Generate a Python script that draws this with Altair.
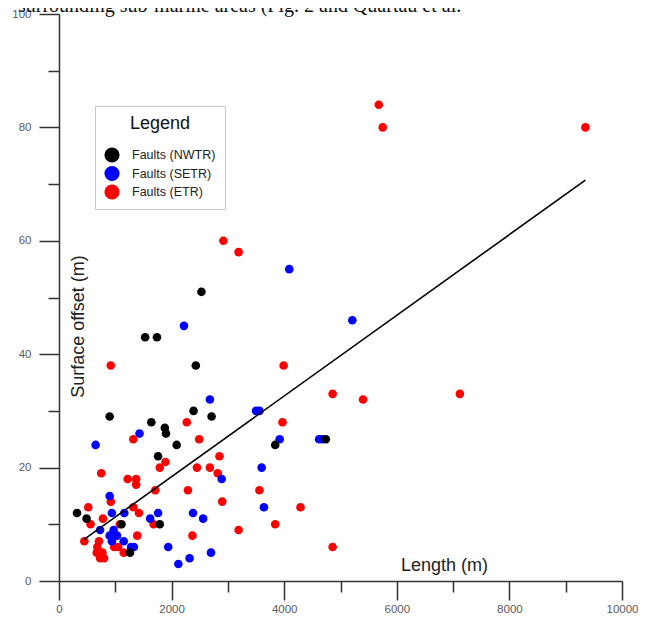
import altair as alt
import pandas as pd

# ---- data ----
groups = ["Faults (NWTR)", "Faults (SETR)", "Faults (ETR)"]
colors = ["#000000", "#0000ff", "#ff0000"]

nwtr_len = [2530, 1530, 1740, 2430, 900, 2390, 2710, 1640, 1880, 1900, 2090, 1760, 3840, 4740, 320, 490, 1110, 1790, 1260]
nwtr_off = [51, 43, 43, 38, 29, 30, 29, 28, 27, 26, 24, 22, 24, 25, 12, 11, 10, 10, 5]

setr_len = [4090, 5210, 2220, 2680, 3500, 3560, 1430, 3920, 4620, 4680, 650, 2890, 3600, 900, 3640, 940, 1160,
            1760, 2380, 1620, 2560, 730, 970, 1030, 900, 940, 1150, 1280, 1330, 1940, 2320, 2120, 2700]
setr_off = [55, 46, 45, 32, 30, 30, 26, 25, 25, 25, 24, 18, 20, 15, 13, 12, 12,
            12, 12, 11, 11, 9, 9, 8, 8, 7, 7, 6, 6, 6, 4, 3, 5]

etr_len = [5680, 5750, 9350, 2920, 3190, 920, 3990, 4860, 5400, 7120, 2270, 3970, 1320, 2490, 2850, 1890, 1790,
           2450, 2680, 2820, 750, 1220, 1370, 1370, 1710, 2290, 3560, 920, 2900, 520, 1320, 4290, 1420, 780,
           560, 1080, 1680, 3840, 3190, 1390, 2370, 450, 710, 680, 980, 1050, 4860, 670, 770, 1150, 730, 800]
etr_off = [84, 80, 80, 60, 58, 38, 38, 33, 32, 33, 28, 28, 25, 25, 22, 21, 20,
           20, 20, 19, 19, 18, 18, 17, 16, 16, 16, 14, 14, 13, 13, 13, 12, 11,
           10, 10, 10, 10, 9, 8, 8, 7, 7, 6, 6, 6, 6, 5, 5, 5, 4, 4]

fit_len = [440, 9350]
fit_off = [7.3, 70.7]

x_major = [0, 2000, 4000, 6000, 8000, 10000]
x_minor = [1000, 3000, 5000, 7000, 9000]
y_major = [0, 20, 40, 60, 80, 100]
y_minor = [10, 30, 50, 70, 90]

header = "surrounding  sub-marine  areas  (Fig.  2  and  Quartau  et  al."

# ---- tables ----
rows = []
for g, L, O in [(groups[2], etr_len, etr_off), (groups[1], setr_len, setr_off), (groups[0], nwtr_len, nwtr_off)]:
    for a, b in zip(L, O):
        rows.append({"length": a, "offset": b, "group": g})
pts = pd.DataFrame(rows)
fit = pd.DataFrame({"length": fit_len, "offset": fit_off})
hdr = pd.DataFrame({"t": [header]})

FONT = "Liberation Sans"
xs = alt.Scale(domain=[0, 10000], nice=False, zero=True)
ys = alt.Scale(domain=[0, 100], nice=False, zero=True)

common = dict(grid=False, domainColor="#333333", domainWidth=1.5, tickColor="#333333", tickWidth=1.5,
              labelFont=FONT, labelFontSize=11.5, labelColor="#5a5a5a", labelFlush=False,
              labelOverlap=False, labelBound=False)

ax_x_major = alt.Axis(orient="bottom", values=x_major, tickSize=19, labelPadding=3, format="d",
                      title="Length (m)", titleX=385, titleY=-16, titleAlign="center", titleBaseline="middle",
                      titleFont=FONT, titleFontSize=18, titleFontWeight="normal", titleColor="#222222", **common)
ax_y_major = alt.Axis(orient="left", values=y_major, tickSize=20, labelPadding=8, format="d",
                      title="Surface offset (m)", titleAngle=270, titleX=19, titleY=312, titleAlign="center",
                      titleBaseline="middle", titleFont=FONT, titleFontSize=18, titleFontWeight="normal",
                      titleColor="#222222", **common)
ax_x_minor = alt.Axis(orient="bottom", values=x_minor, tickSize=11, labels=False, domain=False, title="",
                      grid=False, tickColor="#333333", tickWidth=1.5)
ax_y_minor = alt.Axis(orient="left", values=y_minor, tickSize=11, labels=False, domain=False, title="",
                      grid=False, tickColor="#333333", tickWidth=1.5)

points = alt.Chart(pts).mark_circle(size=74, opacity=1).encode(
    x=alt.X("length:Q", scale=xs, axis=ax_x_major),
    y=alt.Y("offset:Q", scale=ys, axis=ax_y_major),
    color=alt.Color("group:N", scale=alt.Scale(domain=groups, range=colors),
                    legend=alt.Legend(title="Legend", orient="none", legendX=36, legendY=92,
                                      direction="vertical", fillColor="white", strokeColor="#c8c8c8",
                                      padding=9, titleFont=FONT, titleFontSize=18, titleFontWeight="normal",
                                      titleColor="#111111", titleAnchor="middle", titlePadding=14,
                                      labelFont=FONT, labelFontSize=12.5, labelColor="#222222",
                                      symbolSize=230, symbolType="circle", symbolStrokeWidth=0,
                                      symbolOpacity=1, rowPadding=2.5, labelOffset=12)),
)

line = alt.Chart(fit).mark_line(color="black", strokeWidth=1.6).encode(
    x=alt.X("length:Q", scale=xs, axis=ax_x_minor),
    y=alt.Y("offset:Q", scale=ys, axis=ax_y_minor),
)

head = alt.Chart(hdr).mark_text(font="Liberation Serif", fontSize=20, align="left", baseline="alphabetic",
                                color="#111111").encode(
    text="t:N", x=alt.value(-41), y=alt.value(-2)
)

chart = alt.layer(points, line, head).resolve_axis(x="independent", y="independent").properties(
    width=563, height=567,
    background="white",
    autosize=alt.AutoSizeParams(type="none"),
    padding={"left": 51, "top": 6, "right": 16, "bottom": 34},
).configure_view(strokeWidth=0, stroke="transparent")

chart.save("out.html", embed_options={"renderer": "svg", "actions": False})
